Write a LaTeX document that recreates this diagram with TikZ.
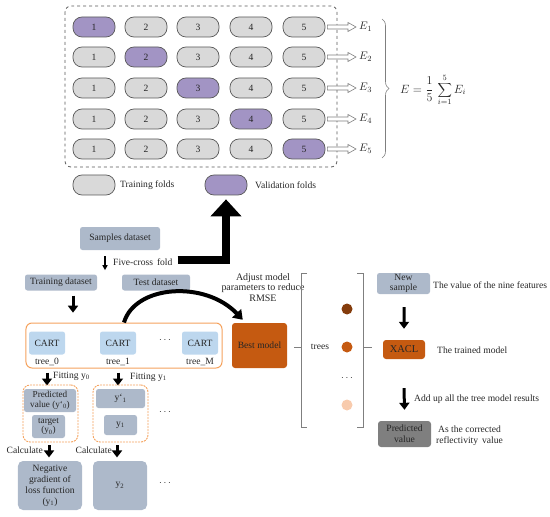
\documentclass[tikz,border=0pt]{standalone}
\usepackage{fontspec}
\setmainfont{Liberation Serif}
\usetikzlibrary{arrows.meta,decorations.pathreplacing,calc}
\definecolor{pillgray}{HTML}{D9D9D9}
\definecolor{pilledge}{HTML}{595959}
\definecolor{valfill}{HTML}{A294C4}
\definecolor{boxblue}{HTML}{ADB9CA}
\definecolor{cartblue}{HTML}{BDD7EE}
\definecolor{orangedark}{HTML}{C55A11}
\definecolor{orangeline}{HTML}{F5A25D}
\definecolor{brown}{HTML}{843C0C}
\definecolor{peach}{HTML}{F8CBAD}
\definecolor{predgray}{HTML}{7F7F7F}
\definecolor{txt}{HTML}{262626}
\begin{document}
\begin{tikzpicture}[x=1bp,y=-1bp,
  font=\fontsize{9.6}{10.8}\selectfont, text=txt,
  pill/.style={draw=pilledge, line width=0.7bp, rounded corners=9bp, minimum width=42bp, minimum height=20bp, inner sep=0pt},
  bbox/.style={fill=boxblue, rounded corners=2.5bp, inner sep=0pt, align=center},
  cbox/.style={fill=cartblue, rounded corners=2.5bp, inner sep=0pt, minimum width=36bp, minimum height=23bp},
  obox/.style={fill=orangedark, rounded corners=3bp, inner sep=0pt, align=center},
  plain/.style={inner sep=0pt, align=center},
  hollow/.style={draw=predgray, fill=white, line width=0.6bp},
  blkarr/.style={line width=3bp, -{Triangle[width=10bp,length=7bp]}},
  thinarr/.style={line width=1.3bp, -{Triangle[width=5bp,length=5bp]}},
  bigarr/.style={line width=8bp, -{Triangle[width=30bp,length=17bp]}},
  curvarr/.style={line width=4bp, -{Triangle[width=12bp,length=9bp]}},
  brk/.style={draw=predgray, line width=0.8bp},
  dot/.style={circle, inner sep=0pt, minimum size=11bp}
]
\useasboundingbox (0,0) rectangle (550,517);

% ---------- cross-validation panel ----------
\draw[dashed, draw=pilledge, line width=0.8bp, rounded corners=6bp] (65,6) rectangle (337,167);
\foreach \r/\y in {1/27,2/57,3/88,4/119,5/149}{
  \foreach \c/\x in {1/94,2/146,3/198,4/251,5/304}{
    \ifnum\r=\c \def\ff{valfill}\else\def\ff{pillgray}\fi
    \node[pill, fill=\ff] (p\r\c) at (\x,\y) {\c};
  }
  \node[plain, anchor=west, font=\fontsize{11}{12}\selectfont] (e\r) at (359,\y) {$E_{\r}$};
  \draw[hollow] ($(p\r5.east)+(2,-2)$) -- ($(e\r.west)+(-11,-2)$) -- ($(e\r.west)+(-11,-4.5)$)
     -- ($(e\r.west)+(-3,0)$) -- ($(e\r.west)+(-11,4.5)$) -- ($(e\r.west)+(-11,2)$)
     -- ($(p\r5.east)+(2,2)$) -- cycle;
}
\draw[draw=predgray, line width=0.6bp, decorate, decoration={brace, amplitude=7bp}] (382,19) -- (382,158);
\node[plain, anchor=west, font=\fontsize{12}{14}\selectfont] (form) at (400,90) {$\displaystyle E=\frac{1}{5}\,\sum_{i=1}^{5}E_i$};

% legend
\node[pill, fill=pillgray] (trn) at (94,185) {};
\node[plain, anchor=west] (trnt) at (120,185) {Training folds};
\node[pill, fill=valfill] (val) at (226,185) {};
\node[plain, anchor=west] (valt) at (255,185) {Validation folds};

% ---------- data split ----------
\node[bbox, minimum width=80bp, minimum height=23bp] (samples) at (120,238.5) {Samples dataset};
\draw[thinarr] ($(samples.south)+(-15,6)$) -- ($(samples.south)+(-15,20)$);
\node[plain, anchor=west, inner sep=3bp] (five) at (110,262) {Five-cross\, fold};
\draw[bigarr] ($(five.east)+(2,-2)$) -| ($(val.south)+(0,4)$);
\node[bbox, minimum width=72bp, minimum height=16bp] (train) at (61,282.5) {Training dataset};
\node[bbox, minimum width=68bp, minimum height=16bp] (test) at (156,282.5) {Test dataset};

% ---------- boosting ----------
\node[draw=orangeline, line width=1bp, rounded corners=6bp, minimum width=196bp, minimum height=45bp, inner sep=0pt] (grp) at (124,345.5) {};
\draw[blkarr] ($(train.south)+(12,5)$) -- ($(train.south)+(12,22)$);
\node[cbox] (cart0) at (47,343) {CART};
\node[cbox] (cart1) at (118,343) {CART};
\node[cbox] (cartm) at (200,343) {CART};
\node[plain] (t0) at (47,362) {tree\_0};
\node[plain] (t1) at (118,362) {tree\_1};
\node[plain] (tm) at (200,362) {tree\_M};
\node[plain] (d0) at (165,340) {$\cdots$};

\node[obox, minimum width=55bp, minimum height=45bp] (best) at (259.5,345.5) {Best model};
\draw[curvarr] (grp.north) .. controls (135,285) and (205,280) .. ($(best.north west)+(11,-3)$);
\node[plain, font=\fontsize{10}{10.8}\selectfont] (adjust) at (263,287.5) {Adjust model\\parameters to reduce\\RMSE};

\draw[blkarr] ($(grp.south -| cart0)+(0,4)$) -- ++(0,13);
\draw[blkarr] ($(grp.south -| cart1)+(0,4)$) -- ++(0,13);
\node[plain, anchor=west] (fit0) at (53,376) {Fitting y\textsubscript{0}};
\node[plain, anchor=west] (fit1) at (130,377) {Fitting y\textsubscript{1}};

\node[draw=orangeline, dash pattern=on 2bp off 1bp, line width=0.9bp, rounded corners=7bp, minimum width=55bp, minimum height=57bp, inner sep=0pt] (g0) at (50.5,413.5) {};
\node[draw=orangeline, dash pattern=on 2bp off 1bp, line width=0.9bp, rounded corners=7bp, minimum width=55bp, minimum height=57bp, inner sep=0pt] (g1) at (120.5,413.5) {};
\node[bbox, minimum width=52bp, minimum height=23bp, font=\fontsize{9.2}{9.8}\selectfont] (pred0) at (50,400.5) {Predicted\\value (y`\textsubscript{0})};
\node[bbox, minimum width=33bp, minimum height=23bp, font=\fontsize{9.2}{9.8}\selectfont] (tgt0) at (48.5,426.5) {target\\(y\textsubscript{0})};
\node[bbox, minimum width=49bp, minimum height=19bp] (y1p) at (120.5,398.5) {y`\textsubscript{1}};
\node[bbox, minimum width=33bp, minimum height=20bp] (y1) at (120.5,425) {y\textsubscript{1}};
\node[plain] (d1) at (165,412) {$\cdots$};

\draw[blkarr] ($(g0.south)+(-1.5,3)$) -- ++(0,12);
\draw[blkarr] ($(g1.south)+(-3.5,3)$) -- ++(0,12);
\node[plain, anchor=east] (calc0) at (43,450) {Calculate};
\node[plain, anchor=east] (calc1) at (112,450) {Calculate};

\node[bbox, rounded corners=5bp, minimum width=64bp, minimum height=49bp, font=\fontsize{9.6}{11}\selectfont] (neg) at (50,485.5) {Negative\\gradient of\\loss function\\(y\textsubscript{1})};
\node[bbox, rounded corners=5bp, minimum width=54bp, minimum height=49bp] (y2) at (120,485.5) {y\textsubscript{2}};
\node[plain] (d2) at (165,483) {$\cdots$};

% ---------- trees ----------
\draw[brk] (307,273) -- (301,273) -- (301,427) -- (307,427);
\draw[brk] (301,347) -- (294,347);
\draw[brk] (357,273) -- (363,273) -- (363,427) -- (357,427);
\draw[brk] (363,347) -- (372,347);
\node[plain] (trees) at (320,347) {trees};
\node[dot, fill=brown] (c1) at (347,309) {};
\node[dot, fill=orangedark] (c2) at (347,347) {};
\node[plain] (c3) at (347,378) {$\cdots$};
\node[dot, fill=peach] (c4) at (347,405) {};

% ---------- prediction ----------
\node[bbox, minimum width=53bp, minimum height=21bp] (newsamp) at (403.5,283.5) {New\\sample};
\node[plain, anchor=west] (nf) at (433,285) {The value of the nine features};
\node[obox, minimum width=42bp, minimum height=19bp, font=\fontsize{10.5}{11}\selectfont] (xacl) at (404,349.5) {XACL};
\node[plain, anchor=west] (tm2) at (437,350) {The trained model};
\draw[blkarr] ($(newsamp.south)+(0.5,13)$) -- ($(xacl.north)+(0,-11)$);
\node[fill=predgray, rounded corners=3bp, inner sep=0pt, minimum width=53bp, minimum height=26bp, align=center] (pv) at (404.5,434) {Predicted\\value};
\draw[blkarr] ($(xacl.south)+(0,29)$) -- ($(pv.north)+(0,-11)$);
\node[plain, anchor=west] (addup) at (414,399) {Add up all the tree model results};
\node[plain, anchor=west] (corr) at (436,436) {As the corrected\\reflectivity\, value};
\end{tikzpicture}
\end{document}
